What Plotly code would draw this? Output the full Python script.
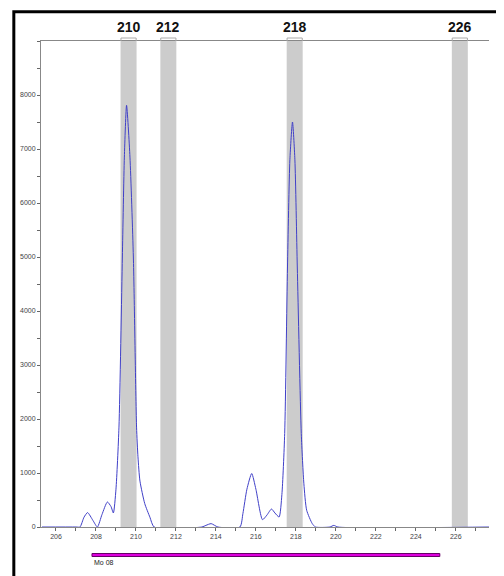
import plotly.graph_objects as go

# Trace data (size in bp vs. signal intensity)
size_bp = [205.3, 207.0, 207.2, 207.4, 207.58, 207.85, 208.07, 208.3, 208.57, 208.75, 208.87, 209.0,
           209.15, 209.32, 209.42, 209.53, 209.70, 209.87, 210.03, 210.1, 210.2, 210.44, 210.7, 210.91,
           213.3, 213.5, 213.76, 214.1, 215.2, 215.35, 215.55, 215.79, 216.0, 216.33, 216.55, 216.78,
           216.95, 217.16, 217.3, 217.44, 217.58, 217.70, 217.83, 217.95, 218.07, 218.27, 218.4,
           218.54, 218.82, 218.98, 219.7, 219.9, 220.1, 227.7]
signal = [0, 0, 0, 180, 267, 120, 0, 230, 463, 380, 260, 700,
          1850, 5000, 6850, 7810, 6850, 5000, 1850, 1300, 850, 433, 180, 0,
          0, 30, 62, 0, 0, 250, 700, 990, 700, 136, 220, 333,
          260, 185, 600, 1730, 4815, 6800, 7500, 6800, 4815, 1730, 800,
          309, 62, 0, 0, 30, 0, 0]

bin_labels = ["210", "212", "218", "226"]
bin_start = [209.23, 211.22, 217.54, 225.80]
bin_end = [210.03, 212.02, 218.34, 226.60]

x_ticks = [206, 208, 210, 212, 214, 216, 218, 220, 222, 224, 226]
y_ticks = [0, 1000, 2000, 3000, 4000, 5000, 6000, 7000, 8000]

marker_name = "Mo 08"
marker_range = [207.8, 225.2]

PLOT_H = 486.0  # plot-area height in px
PLOT_W = 450.0

fig = go.Figure()
fig.add_trace(go.Scatter(x=size_bp, y=signal, mode="lines",
                         line=dict(color="#4040c8", width=1, shape="spline", smoothing=0.6),
                         hoverinfo="skip", showlegend=False))

shapes = []
annotations = []
for lab, s, e in zip(bin_labels, bin_start, bin_end):
    shapes.append(dict(type="rect", xref="x", yref="paper", x0=s, x1=e, y0=0, y1=1,
                       fillcolor="#cccccc", line=dict(width=0), layer="below"))
    # small bracket above band
    yb = 1 + 3 / PLOT_H
    shapes.append(dict(type="line", xref="x", yref="paper", x0=s + 0.02, x1=e - 0.02, y0=yb, y1=yb,
                       line=dict(color="#aaaaaa", width=1)))
    for xx in (s + 0.02, e - 0.02):
        shapes.append(dict(type="line", xref="x", yref="paper", x0=xx, x1=xx, y0=yb, y1=1,
                           line=dict(color="#aaaaaa", width=1)))
    annotations.append(dict(x=(s + e) / 2, y=1 + 4 / PLOT_H, xref="x", yref="paper", text=f"<b>{lab}</b>",
                            showarrow=False, xanchor="center", yanchor="bottom",
                            font=dict(family="Liberation Sans, Arial", size=14, color="#111111")))

# marker bar
shapes.append(dict(type="rect", xref="x", yref="paper", x0=marker_range[0], x1=marker_range[1],
                   y0=-29.5 / PLOT_H, y1=-26.5 / PLOT_H,
                   fillcolor="#dd00dd", line=dict(color="#660066", width=1)))
annotations.append(dict(x=marker_range[0], y=-35 / PLOT_H, xref="x", yref="paper", text=marker_name,
                        showarrow=False, xanchor="left", yanchor="middle",
                        font=dict(family="Liberation Sans, Arial", size=7, color="#222222")))

# outer black frame (page body has an 8px offset)
shapes.append(dict(type="rect", xref="paper", yref="paper", x0=(11.7 - 39) / PLOT_W, x1=1.5,
                   y0=-0.5, y1=1 + (41 - 11.7) / PLOT_H, line=dict(color="black", width=3),
                   fillcolor="rgba(0,0,0,0)"))

fig.update_layout(
    width=496, height=568,
    margin=dict(l=31, r=15, t=33, b=49, pad=0),
    paper_bgcolor="white", plot_bgcolor="white",
    shapes=shapes, annotations=annotations,
    font=dict(family="Liberation Sans, Arial", size=7, color="#444444"),
    xaxis=dict(range=[205.25, 227.66], tickvals=x_ticks, ticktext=[str(v) for v in x_ticks],
               showgrid=False, zeroline=False, showline=True, linecolor="#888888", linewidth=1,
               mirror=True, ticks="outside", ticklen=3, tickcolor="#666666",
               minor=dict(dtick=1, ticks="outside", ticklen=3, tickcolor="#666666"),
               tickfont=dict(size=7, color="#444444")),
    yaxis=dict(range=[0, 9000], tickvals=y_ticks, ticktext=[str(v) for v in y_ticks],
               showgrid=False, zeroline=False, showline=True, linecolor="#888888", linewidth=1,
               ticks="outside", ticklen=3, tickcolor="#666666",
               minor=dict(dtick=500, ticks="outside", ticklen=3, tickcolor="#666666"),
               tickfont=dict(size=7, color="#444444")),
)

fig.write_html("out.html")
